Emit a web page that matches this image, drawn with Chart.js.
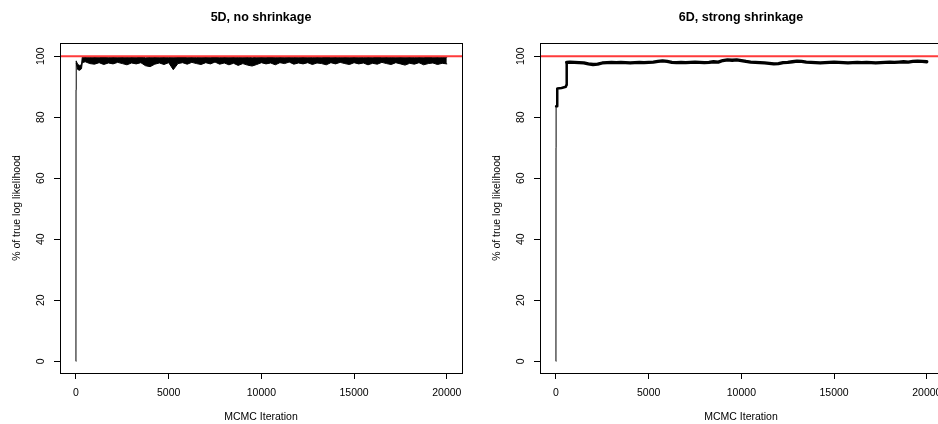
<!DOCTYPE html>
<html lang="en">
<head>
<meta charset="UTF-8">
<title>MCMC trace: % of true log likelihood</title>
<script src="https://cdn.jsdelivr.net/npm/chart.js@4"></script>
<style>
  body { margin: 0; background: #fff; overflow: hidden; }
  .wrap { position: relative; width: 938px; height: 424px; overflow: hidden; }
  .wrap canvas { position: absolute; top: 0; }
  #leftChart { left: 0; }
  #rightChart { left: 480px; }
</style>
</head>
<body>
<div class="wrap">
  <canvas id="leftChart" width="480" height="424"></canvas>
  <canvas id="rightChart" width="480" height="424"></canvas>
</div>
<script>
// axis ticks
const xTicks = [0, 5000, 10000, 15000, 20000];
const yTicks = [0, 20, 40, 60, 80, 100];
const trueLevel = 100;

// --- 5D, no shrinkage ---
const leftRiseIter = [0, 5, 15];
const leftRiseVal = [0, 89, 98.4];

// band of the trace: upper / lower edge
const leftIter = [15, 100, 200, 300, 340, 500, 750, 1000, 1250, 1500, 1750, 2000, 2250, 2500,
  2750, 3000, 3250, 3500, 3750, 4000, 4250, 4500, 4750, 5000,
  5250, 5500, 5750, 6000, 6250, 6500, 6750, 7000, 7250, 7500,
  7750, 8000, 8250, 8500, 8750, 9000, 9250, 9500, 9750, 10000,
  10250, 10500, 10750, 11000, 11250, 11500, 11750, 12000, 12250, 12500,
  12750, 13000, 13250, 13500, 13750, 14000, 14250, 14500, 14750, 15000,
  15250, 15500, 15750, 16000, 16250, 16500, 16750, 17000, 17250, 17500,
  17750, 18000, 18250, 18500, 18750, 19000, 19250, 19500, 19750, 20000];
const leftUpper = [98.4, 97.3, 97.0, 97.2, 99.7, 99.8, 99.6, 99.8, 99.7, 99.9, 99.6, 99.8, 99.7, 99.8,
  99.6, 99.8, 99.7, 99.9, 99.5, 99.6, 99.8, 99.7, 99.8, 99.6,
  99.7, 99.8, 99.9, 99.7, 99.8, 99.6, 99.7, 99.8, 99.7, 99.9,
  99.6, 99.8, 99.7, 99.8, 99.6, 99.7, 99.8, 99.5, 99.7, 99.8,
  99.7, 99.9, 99.6, 99.8, 99.7, 99.8, 99.6, 99.7, 99.8, 99.7,
  99.6, 99.8, 99.7, 99.9, 99.7, 99.8, 99.6, 99.8, 99.7, 99.8,
  99.7, 99.6, 99.8, 99.7, 99.9, 99.7, 99.8, 99.6, 99.7, 99.8,
  99.7, 99.8, 99.6, 99.8, 99.7, 99.9, 99.7, 99.8, 99.6, 99.7];
const leftLower = [97.8, 95.6, 95.4, 95.9, 97.9, 98.2, 97.6, 97.4, 97.9, 97.3, 97.8, 97.5, 98.0, 97.6,
  97.2, 97.8, 97.5, 97.9, 96.9, 96.6, 97.4, 97.8, 97.3, 97.9,
  95.6, 97.6, 97.9, 97.4, 98.0, 97.6, 97.3, 97.9, 97.5, 98.1,
  97.4, 97.8, 97.2, 97.7, 97.0, 97.6, 97.1, 96.8, 97.3, 97.9,
  97.5, 97.8, 97.2, 97.9, 97.6, 98.1, 97.4, 97.8, 97.5, 97.9,
  97.3, 97.8, 97.6, 97.2, 97.9, 97.5, 98.0, 97.6, 97.3, 97.9,
  97.5, 97.8, 97.2, 97.7, 97.4, 98.0, 97.6, 97.3, 97.9, 97.5,
  97.1, 97.7, 97.4, 97.9, 97.2, 97.6, 97.8, 97.3, 97.7, 97.5];

// --- 6D, strong shrinkage ---
const rightRiseIter = [0, 4, 8];
const rightRiseVal = [0, 70, 83.6];
const rightStepIter = [8, 65, 70, 300, 540, 560, 580];
const rightStepVal = [83.6, 83.6, 89.4, 89.6, 90.0, 90.6, 98.0];
const rightIter = [580, 750, 1000, 1250, 1500, 1750, 2000, 2250, 2500, 2750,
  3000, 3250, 3500, 3750, 4000, 4250, 4500, 4750, 5000, 5250,
  5500, 5750, 6000, 6250, 6500, 6750, 7000, 7250, 7500, 7750,
  8000, 8250, 8500, 8750, 9000, 9250, 9500, 9750, 10000, 10250,
  10500, 10750, 11000, 11250, 11500, 11750, 12000, 12250, 12500, 12750,
  13000, 13250, 13500, 13750, 14000, 14250, 14500, 14750, 15000, 15250,
  15500, 15750, 16000, 16250, 16500, 16750, 17000, 17250, 17500, 17750,
  18000, 18250, 18500, 18750, 19000, 19250, 19500, 19750, 20000];
const rightVal = [98.0, 98.1, 98.0, 97.9, 97.8, 97.5, 97.3, 97.4, 97.8, 97.9,
  98.0, 97.9, 98.0, 97.9, 97.8, 97.9, 98.0, 97.9, 98.0, 98.1,
  98.3, 98.5, 98.3, 98.0, 97.9, 98.0, 97.9, 98.0, 98.1, 98.0,
  97.9, 98.0, 98.2, 98.1, 98.6, 98.8, 98.7, 98.8, 98.6, 98.3,
  98.1, 98.0, 97.9, 97.8, 97.7, 97.5, 97.6, 97.9, 98.0, 98.2,
  98.4, 98.3, 98.1, 98.0, 97.9, 97.8, 97.9, 98.0, 98.1, 98.0,
  97.9, 97.8, 97.9, 98.0, 97.9, 98.0, 97.9, 97.8, 97.9, 98.0,
  98.1, 98.0, 98.1, 98.2, 98.1, 98.3, 98.4, 98.3, 98.2];

const FONT = "'Liberation Sans', Arial, Helvetica, sans-serif";
Chart.defaults.font.family = FONT;
Chart.defaults.color = '#000';

const pts = (xs, ys) => xs.map((x, i) => ({ x: x, y: ys[i] }));

function redLine() {
  return {
    data: [{ x: -860, y: trueLevel }, { x: 20820, y: trueLevel }],
    borderColor: '#ff3b3b', borderWidth: 2, order: 0
  };
}

function blackLine(data, width, extra) {
  return Object.assign({
    data: data, borderColor: '#000', borderWidth: width, order: 1,
    borderJoinStyle: 'round', borderCapStyle: 'round', fill: false
  }, extra || {});
}

// frame round the plot region, like R's box()
const boxPlugin = {
  id: 'box',
  afterDraw(chart) {
    const { ctx, chartArea: a } = chart;
    ctx.save();
    ctx.strokeStyle = '#000';
    ctx.lineWidth = 1;
    ctx.strokeRect(Math.round(a.left) + 0.5, Math.round(a.top) + 0.5,
      Math.round(a.right - a.left), Math.round(a.bottom - a.top));
    ctx.restore();
  }
};

function makeChart(id, title, datasets) {
  return new Chart(document.getElementById(id), {
    type: 'line',
    data: { datasets: datasets },
    options: {
      responsive: false,
      animation: false,
      events: [],
      layout: { padding: { left: 0, right: 18, top: 0, bottom: 0 }, autoPadding: false },
      elements: { point: { radius: 0 }, line: { tension: 0 } },
      plugins: {
        legend: { display: false },
        tooltip: { enabled: false },
        title: {
          display: true, text: title, fullSize: false,
          font: { size: 12.5, weight: 'bold' },
          padding: { top: 10, bottom: 18 }
        }
      },
      scales: {
        x: {
          type: 'linear', min: -860, max: 20820,
          afterBuildTicks: s => { s.ticks = xTicks.map(v => ({ value: v })); },
          afterFit: s => { s.height = 51; },
          grid: { drawOnChartArea: false, tickLength: 6, color: '#000' },
          border: { display: false },
          ticks: { padding: 8, maxRotation: 0, autoSkip: false, font: { size: 10.5 }, callback: v => String(v) },
          title: { display: true, text: 'MCMC Iteration', font: { size: 10.5 }, padding: { top: 0, bottom: 0.7 } }
        },
        y: {
          type: 'linear', min: -3.85, max: 104.35,
          afterBuildTicks: s => { s.ticks = yTicks.map(v => ({ value: v })); },
          afterFit: s => { s.width = 60; },
          grid: { drawOnChartArea: false, tickLength: 6, color: '#000' },
          border: { display: false },
          ticks: { padding: 4.4, minRotation: 90, maxRotation: 90, crossAlign: 'center', font: { size: 10.5 }, callback: v => String(v) },
          title: { display: true, text: '% of true log likelihood', font: { size: 10.5 }, padding: { top: 10.9, bottom: 0 } }
        }
      }
    },
    plugins: [boxPlugin]
  });
}

makeChart('leftChart', '5D, no shrinkage', [
  redLine(),
  blackLine(pts(leftIter, leftUpper), 1, { fill: '+1', backgroundColor: '#000' }),
  blackLine(pts(leftIter, leftLower), 1),
  blackLine(pts(leftRiseIter, leftRiseVal), 1)
]);

makeChart('rightChart', '6D, strong shrinkage', [
  redLine(),
  blackLine(pts(rightIter, rightVal), 3.3),
  blackLine(pts(rightStepIter, rightStepVal), 2.5),
  blackLine(pts(rightRiseIter, rightRiseVal), 1)
]);
</script>
</body>
</html>
